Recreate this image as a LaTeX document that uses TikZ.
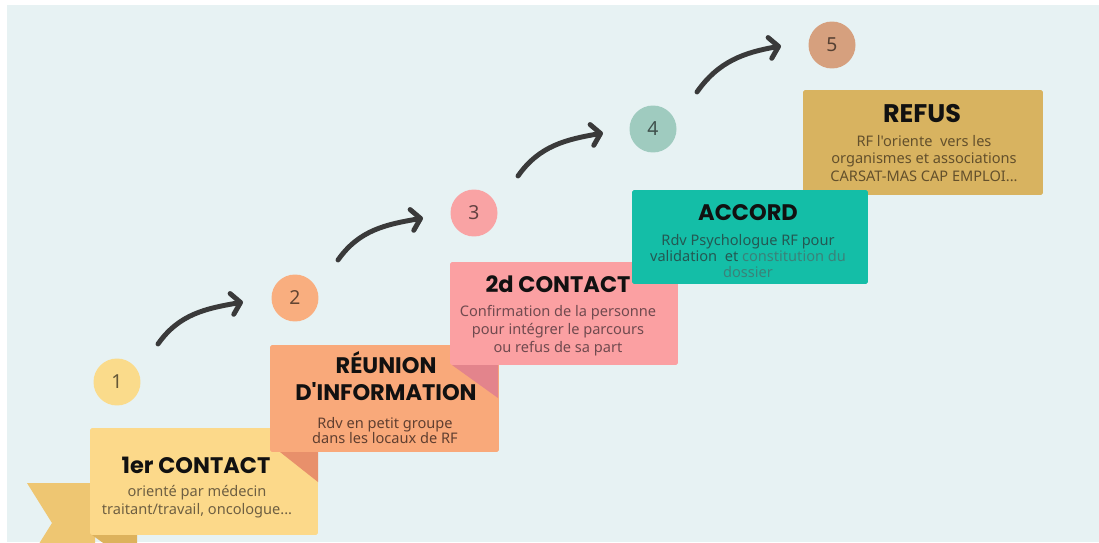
\documentclass[tikz,border=0pt]{standalone}
\usepackage{fontspec}
\usepackage{tikz}
\usetikzlibrary{arrows.meta}
\newfontfamily\headfont{Poppins}
\newfontfamily\bodyfont{Noto Sans}
\definecolor{bg}{HTML}{E7F2F3}
\definecolor{yel}{HTML}{FCD98A}
\definecolor{ora}{HTML}{F9A97A}
\definecolor{pnk}{HTML}{FBA0A2}
\definecolor{tea}{HTML}{14BEA7}
\definecolor{gld}{HTML}{D8B360}
\definecolor{ora2}{HTML}{E8906B}
\definecolor{pnk2}{HTML}{E3848C}
\definecolor{tail}{HTML}{EEC672}
\definecolor{tail2}{HTML}{DDB25C}
\definecolor{cy1}{HTML}{FADB8B}
\definecolor{cy2}{HTML}{F9AE7F}
\definecolor{cy3}{HTML}{F9A3A4}
\definecolor{cy4}{HTML}{9FCBBF}
\definecolor{cy5}{HTML}{D6A07E}
\definecolor{title}{HTML}{111111}
\definecolor{txt1}{HTML}{6E5F42}
\definecolor{txt2}{HTML}{603F30}
\definecolor{txt3}{HTML}{704A4F}
\definecolor{txt4}{HTML}{245852}
\definecolor{txt4b}{HTML}{3A8279}
\definecolor{txt5}{HTML}{63502C}
\definecolor{arrow}{HTML}{3A3A3A}

\begin{document}
\begin{tikzpicture}[x=0.02cm,y=0.02cm,
    box/.style={rectangle,rounded corners=1pt,inner sep=0pt},
    num/.style={circle,minimum size=0.94cm,inner sep=0pt,text=black,text opacity=.6,
      font=\bodyfont\fontsize{11}{12}\selectfont},
    ttl/.style={align=center,inner sep=0pt,text=title,
      font=\headfont\bfseries\fontsize{12.8}{15.8}\selectfont},
    txt/.style={align=center,inner sep=0pt,font=\bodyfont\fontsize{8.3}{10.2}\selectfont},
    arr/.style={draw=arrow,line width=2.8pt,line cap=round,
      -{Straight Barb[length=5pt,width=12pt,round]}}]
          \useasboundingbox (0,0) rectangle (1099,542);
          \clip (0,0) rectangle (1099,542);
          \fill[bg] (7,0) rectangle (1099,537);
          \fill[tail] (27,59) -- (95,59) -- (95,-21) -- (27,-21) -- (52,19) -- cycle;
          \fill[tail2] (92,7) -- (137,7) -- (137,-25) -- cycle;
          \node[box,fill=yel,minimum width=4.56cm,minimum height=2.14cm] (b1) at (204,60.5) {};
          \fill[ora2] (280,90) -- (318,90) -- (318,60) -- cycle;
          \node[box,fill=ora,minimum width=4.58cm,minimum height=2.14cm] (b2) at (384.5,143.5) {};
          \fill[pnk2] (452,177) -- (498,177) -- (498,144) -- cycle;
          \node[box,fill=pnk,minimum width=4.56cm,minimum height=2.06cm] (b3) at (564,228.5) {};
          \node[box,fill=gld,minimum width=4.8cm,minimum height=2.1cm] (b5) at (923,399.5) {};
          \node[box,fill=tea,minimum width=4.72cm,minimum height=1.88cm] (b4) at (750,305) {};
          \node[ttl] (t1) at (196,77) {1er CONTACT};
          \node[txt,text=txt1] (d1) at (197,40) {orienté par médecin\\traitant/travail, oncologue...};
          \node[ttl] (t2) at (386,166) {RÉUNION\\D'INFORMATION};
          \node[txt,text=txt2] (d2) at (385,111.5) {Rdv en petit groupe\\[-1.5pt]dans les locaux de RF};
          \node[ttl] (t3) at (558,258) {2d CONTACT};
          \node[txt,text=txt3] (d3) at (558,211) {Confirmation de la personne\\pour intégrer le parcours\\ou refus de sa part};
          \node[ttl] (t4) at (748,329) {ACCORD};
          \node[txt,text=txt4] (d4) at (748,286) {Rdv Psychologue RF pour\\[-1.2pt]validation\ \ et \textcolor{txt4b}{constitution du}\\[-1.2pt]\textcolor{txt4b}{dossier}};
          \node[ttl,font=\headfont\bfseries\fontsize{14.5}{16}\selectfont] (t5) at (922,428) {REFUS};
          \node[txt,text=txt5] (d5) at (924,383.5) {RF l'oriente\ \ vers les\\organismes et associations\\CARSAT-MAS CAP EMPLOI...};
          \node[num,fill=cy1] (c1) at (117,160) {1};
          \node[num,fill=cy2] (c2) at (295,244) {2};
          \node[num,fill=cy3] (c3) at (474,329) {3};
          \node[num,fill=cy4] (c4) at (653,413) {4};
          \node[num,fill=cy5] (c5) at (832,497) {5};
          \draw[arr] ([shift={(41,38)}]c1.center) to[out=55,in=190] ([shift={(-52,-4)}]c2.center);
          \draw[arr] ([shift={(43,38)}]c2.center) to[out=55,in=190] ([shift={(-51,-5)}]c3.center);
          \draw[arr] ([shift={(44,37)}]c3.center) to[out=55,in=190] ([shift={(-50,-4)}]c4.center);
          \draw[arr] ([shift={(44,37)}]c4.center) to[out=55,in=190] ([shift={(-51,-1)}]c5.center);
        \end{tikzpicture}
\end{document}
